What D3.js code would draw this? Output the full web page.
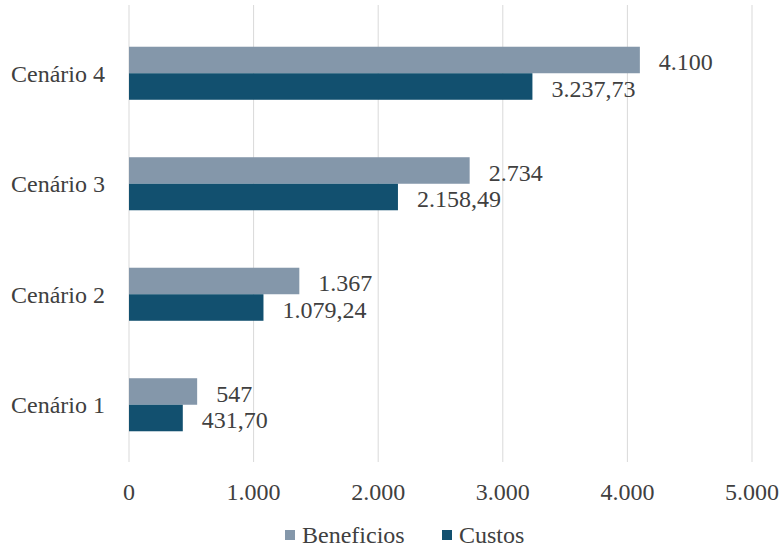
<!DOCTYPE html>
<html>
<head>
<meta charset="utf-8">
<script src="https://cdn.jsdelivr.net/npm/d3@7"></script>
<style>
body { margin: 0; background: #fff; }
svg text { font-family: "Liberation Serif", "Times New Roman", serif; }
</style>
</head>
<body>
<svg id="chart" width="780" height="547"></svg>
<script>
var categories = ["Cenário 1", "Cenário 2", "Cenário 3", "Cenário 4"];
var beneficios = [547, 1367, 2734, 4100];
var custos = [431.70, 1079.24, 2158.49, 3237.73];
var beneficiosLabels = ["547", "1.367", "2.734", "4.100"];
var custosLabels = ["431,70", "1.079,24", "2.158,49", "3.237,73"];
var xTicks = [0, 1000, 2000, 3000, 4000, 5000];
var seriesNames = ["Beneficios", "Custos"];
var colors = ["#8497aa", "#12506f"];
var textColor = "#404040";
var fs = "24px";

var svg = d3.select("#chart"),
margin = {top: 18, right: 28, bottom: 87, left: 129},
width = +svg.attr("width") - margin.left - margin.right,
height = +svg.attr("height") - margin.top - margin.bottom,
g = svg.append("g").attr("transform", "translate(" + margin.left + "," + margin.top + ")");

var x = d3.scaleLinear().domain([0, 5000]).range([0, width]);
var y = d3.scaleBand().domain(categories.slice().reverse()).range([0, height]).paddingInner(0.52).paddingOuter(0.26);
var sub = d3.scaleBand().domain(seriesNames).range([0, y.bandwidth()]);

// grid
g.selectAll(".grid")
  .data(xTicks)
  .enter().append("line")
    .attr("x1", function(d) { return x(d); })
    .attr("x2", function(d) { return x(d); })
    .attr("y1", -13)
    .attr("y2", height + 2)
    .attr("stroke", "#d9d9d9")
    .attr("stroke-width", 1);

var rows = categories.map(function(c, i) {
  return [
    {cat: c, s: "Beneficios", v: beneficios[i], label: beneficiosLabels[i], color: colors[0]},
    {cat: c, s: "Custos", v: custos[i], label: custosLabels[i], color: colors[1]}
  ];
});
var flat = [].concat.apply([], rows);

g.selectAll(".bar")
  .data(flat)
  .enter().append("rect")
    .attr("class", "bar")
    .attr("x", x(0))
    .attr("y", function(d) { return y(d.cat) + sub(d.s); })
    .attr("width", function(d) { return x(d.v) - x(0); })
    .attr("height", sub.bandwidth())
    .attr("fill", function(d) { return d.color; });

g.selectAll(".val")
  .data(flat)
  .enter().append("text")
    .attr("class", "val")
    .attr("x", function(d) { return x(d.v) + 19; })
    .attr("y", function(d) { return y(d.cat) + sub(d.s) + sub.bandwidth() / 2 + 2; })
    .attr("dy", "0.35em")
    .attr("fill", textColor)
    .style("font-size", fs)
    .text(function(d) { return d.label; });

// category labels
g.selectAll(".cat")
  .data(categories)
  .enter().append("text")
    .attr("x", -24)
    .attr("y", function(d) { return y(d) + y.bandwidth() / 2; })
    .attr("dy", "0.35em")
    .attr("text-anchor", "end")
    .attr("fill", textColor)
    .style("font-size", fs)
    .text(function(d) { return d; });

// x tick labels
var fmt = d3.formatLocale({decimal: ",", thousands: ".", grouping: [3], currency: ["", ""]}).format(",.0f");
g.selectAll(".tick-label")
  .data(xTicks)
  .enter().append("text")
    .attr("x", function(d) { return x(d); })
    .attr("y", height + 32)
    .attr("dy", "0.35em")
    .attr("text-anchor", "middle")
    .attr("fill", textColor)
    .style("font-size", fs)
    .text(function(d) { return fmt(d); });

// legend
var legend = svg.append("g").attr("transform", "translate(285,535)");
var lx = [0, 157];
seriesNames.forEach(function(n, i) {
  var lg = legend.append("g").attr("transform", "translate(" + lx[i] + ",0)");
  lg.append("rect").attr("x", 0).attr("y", -5).attr("width", 10).attr("height", 10).attr("fill", colors[i]);
  lg.append("text").attr("x", 17).attr("y", 0).attr("dy", "0.35em").attr("fill", textColor).style("font-size", fs).text(n);
});
</script>
</body>
</html>
